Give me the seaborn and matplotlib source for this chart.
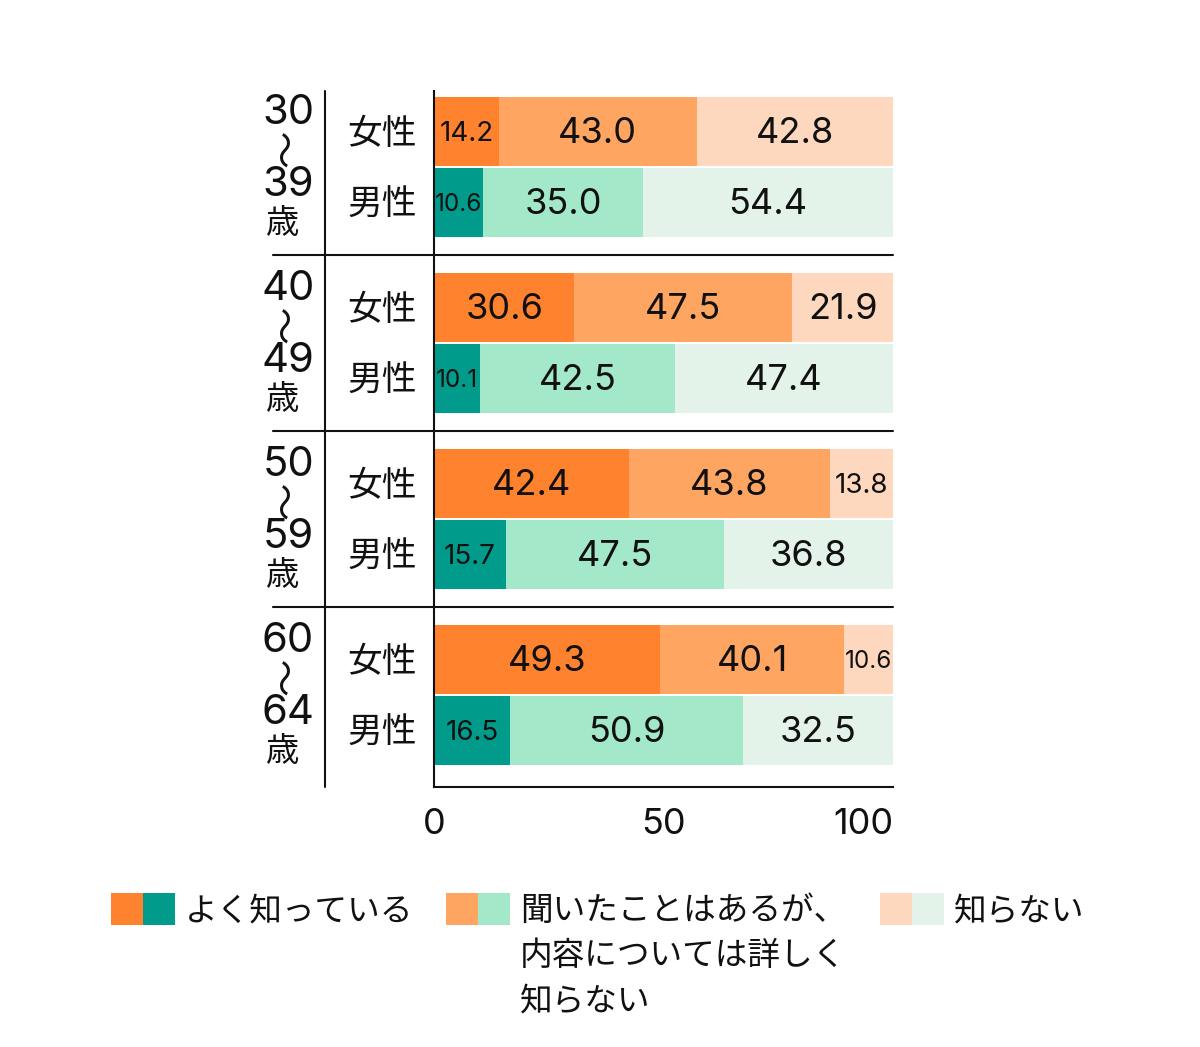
import matplotlib
matplotlib.use('Agg')
import matplotlib.pyplot as plt
from matplotlib.patches import Rectangle
import numpy as np
import pandas as pd
import seaborn as sns

# ─── DATA ─────────────────────────────────────────────────────────────────────
AGE_GROUPS = [('30', '39'), ('40', '49'), ('50', '59'), ('60', '64')]
SEXES = ['女性', '男性']
SEGMENT_LABELS = ['よく知っている',
                  '聞いたことはあるが、\n内容については詳しく\n知らない',
                  '知らない']

# rows: (30-39 female, 30-39 male, 40-49 female, ...)
KNOW_WELL = [14.2, 10.6, 30.6, 10.1, 42.4, 15.7, 49.3, 16.5]
HEARD     = [43.0, 35.0, 47.5, 42.5, 43.8, 47.5, 40.1, 50.9]
UNKNOWN   = [42.8, 54.4, 21.9, 47.4, 13.8, 36.8, 10.6, 32.5]

XTICKS = [0, 50, 100]

FEMALE_COLORS = ['#FF822E', '#FFA562', '#FDD8BF']
MALE_COLORS   = ['#009B8B', '#A3E8C9', '#E4F3EA']

# ─── LAYOUT ───────────────────────────────────────────────────────────────────
W, H = 1200, 1047
STEP = 2.479          # distance between age groups (in bar heights)
BAR_H = 0.985
Y_TOP = -1.239
Y_BOT = 3 * STEP + 1 + 0.296
INK = '#111111'
NUM_FONT = ['Inter', 'Noto Sans CJK JP']

sns.set_theme(style='white')
plt.rcParams['font.family'] = ['Noto Sans CJK JP', 'DejaVu Sans']

rows = []
for g, _ in enumerate(AGE_GROUPS):
    for s, sex in enumerate(SEXES):
        rows.append({'group': g, 'sex': sex, 'ypos': g * STEP + (s - 0.5)})
df = pd.DataFrame(rows)
df['know'] = KNOW_WELL
df['heard'] = HEARD
df['unknown'] = UNKNOWN
df['left_know'] = 0.0
df['left_heard'] = df['know']
df['left_unknown'] = df['know'] + df['heard']

fig = plt.figure(figsize=(W / 100, H / 100), dpi=100)
ax = fig.add_axes([434 / W, 1 - 787 / H, 459 / W, 708 / H])

seg_cols = ['know', 'heard', 'unknown']
for k, col in enumerate(seg_cols):
    for s, sex in enumerate(SEXES):
        sub = df[df['sex'] == sex].sort_values('ypos')
        color = (FEMALE_COLORS if s == 0 else MALE_COLORS)[k]
        sns.barplot(data=sub, x=col, y='ypos', orient='y', native_scale=True,
                    left=sub['left_' + col].values, color=color,
                    width=BAR_H / STEP, linewidth=0, errorbar=None,
                    saturation=1, ax=ax)
        for _, r in sub.iterrows():
            v = r[col]
            fs = 17.5 if v < 12 else (20 if v < 17 else 26)
            ax.text(r['left_' + col] + v / 2, r['ypos'] + 0.03, f'{v:.1f}',
                    ha='center', va='center', fontsize=fs, color=INK,
                    family=NUM_FONT)

ax.set_xlim(0, 100)
ax.set_ylim(Y_BOT, Y_TOP)
ax.set_xlabel('')
ax.set_ylabel('')
ax.set_yticks([])
ax.set_xticks(XTICKS)
ax.set_xticklabels([str(t) for t in XTICKS], fontsize=26, color=INK,
                   family=NUM_FONT)
ax.get_xticklabels()[-1].set_ha('right')
ax.tick_params(axis='x', length=0, pad=15)
ax.grid(False)

for side in ['top', 'right']:
    ax.spines[side].set_visible(False)
for side in ['left', 'bottom']:
    ax.spines[side].set_color(INK)
    ax.spines[side].set_linewidth(1.5)
ax.spines['left'].set_bounds(Y_BOT, Y_TOP + 12 / 71)

trans = ax.get_yaxis_transform()
# vertical line between age and sex labels
ax.plot([(325 - 434) / 459] * 2, [0, (787 - 91) / 708], transform=ax.transAxes,
        color=INK, lw=1.5, clip_on=False)
# separators between age groups
for g in range(len(AGE_GROUPS) - 1):
    y = g * STEP + 1.24
    ax.plot([(273 - 434) / 459, 1], [y, y], transform=trans,
            color=INK, lw=1.5, clip_on=False)

# left labels
for g, (lo, hi) in enumerate(AGE_GROUPS):
    c = g * STEP
    xa = (288 - 434) / 459
    ax.text(xa, c - 0.76, lo, transform=trans, ha='center', va='center',
            fontsize=30, color=INK, family=NUM_FONT)
    ax.text(xa, c - 0.27, '〜', transform=trans, ha='center', va='center',
            rotation=90, fontsize=27, color=INK)
    ax.text(xa, c + 0.25, hi, transform=trans, ha='center', va='center',
            fontsize=30, color=INK, family=NUM_FONT)
    ax.text((283 - 434) / 459, c + 0.79, '歳', transform=trans, ha='center',
            va='center', fontsize=24, color=INK)
    for s, sex in enumerate(SEXES):
        ax.text((382 - 434) / 459, c + (s - 0.5) + 0.04, sex, transform=trans,
                ha='center', va='center', fontsize=25, color=INK)

# legend
legend_x = [111, 446, 880]
for k, label in enumerate(SEGMENT_LABELS):
    x0 = legend_x[k]
    for j, cols in enumerate([FEMALE_COLORS, MALE_COLORS]):
        fig.add_artist(Rectangle(((x0 + 32 * j) / W, 1 - 925 / H), 32 / W, 32 / H,
                                 transform=fig.transFigure, color=cols[k], lw=0))
    for i, line in enumerate(label.split('\n')):
        fig.text((x0 + 74) / W, 1 - (911 + 45 * i) / H, line, ha='left',
                 va='center', fontsize=23.5, color=INK)

fig.savefig('out.png', dpi=100)
